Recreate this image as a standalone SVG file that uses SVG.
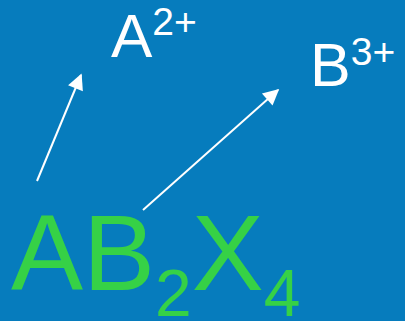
<svg xmlns="http://www.w3.org/2000/svg" width="405" height="321" viewBox="0 0 405 321">
<defs>
<style>
.lbl{font-family:"Liberation Sans",Arial,sans-serif;fill:#ffffff}
.f{font-family:"Liberation Sans",Arial,sans-serif;fill:#36d146}
.c{stroke:#ffffff;stroke-width:2;fill:none}
</style>
<marker id="ah" viewBox="0 0 10 10" refX="9" refY="5" markerWidth="9" markerHeight="8" markerUnits="strokeWidth" orient="auto">
<path d="M0,0 L10,5 L0,10 z" fill="#ffffff"/>
</marker>
</defs>
<rect width="405" height="321" fill="#067cbd"/>
<g id="connectors">
<line class="c" x1="37" y1="181" x2="81" y2="75" marker-end="url(#ah)"/>
<line class="c" x1="143" y1="210" x2="278" y2="90" marker-end="url(#ah)"/>
</g>
<g id="nodeA">
<text class="lbl" x="111" y="57" font-size="62">A<tspan font-size="39" dy="-22">2+</tspan></text>
</g>
<g id="nodeB">
<text class="lbl" x="310" y="86" font-size="61">B<tspan font-size="39" dy="-21">3+</tspan></text>
</g>
<g id="formula">
<text class="f" x="11" y="290" font-size="108">AB<tspan font-size="66" dy="26">2</tspan><tspan dy="-26">X</tspan><tspan font-size="66" dy="26">4</tspan></text>
</g>
</svg>
